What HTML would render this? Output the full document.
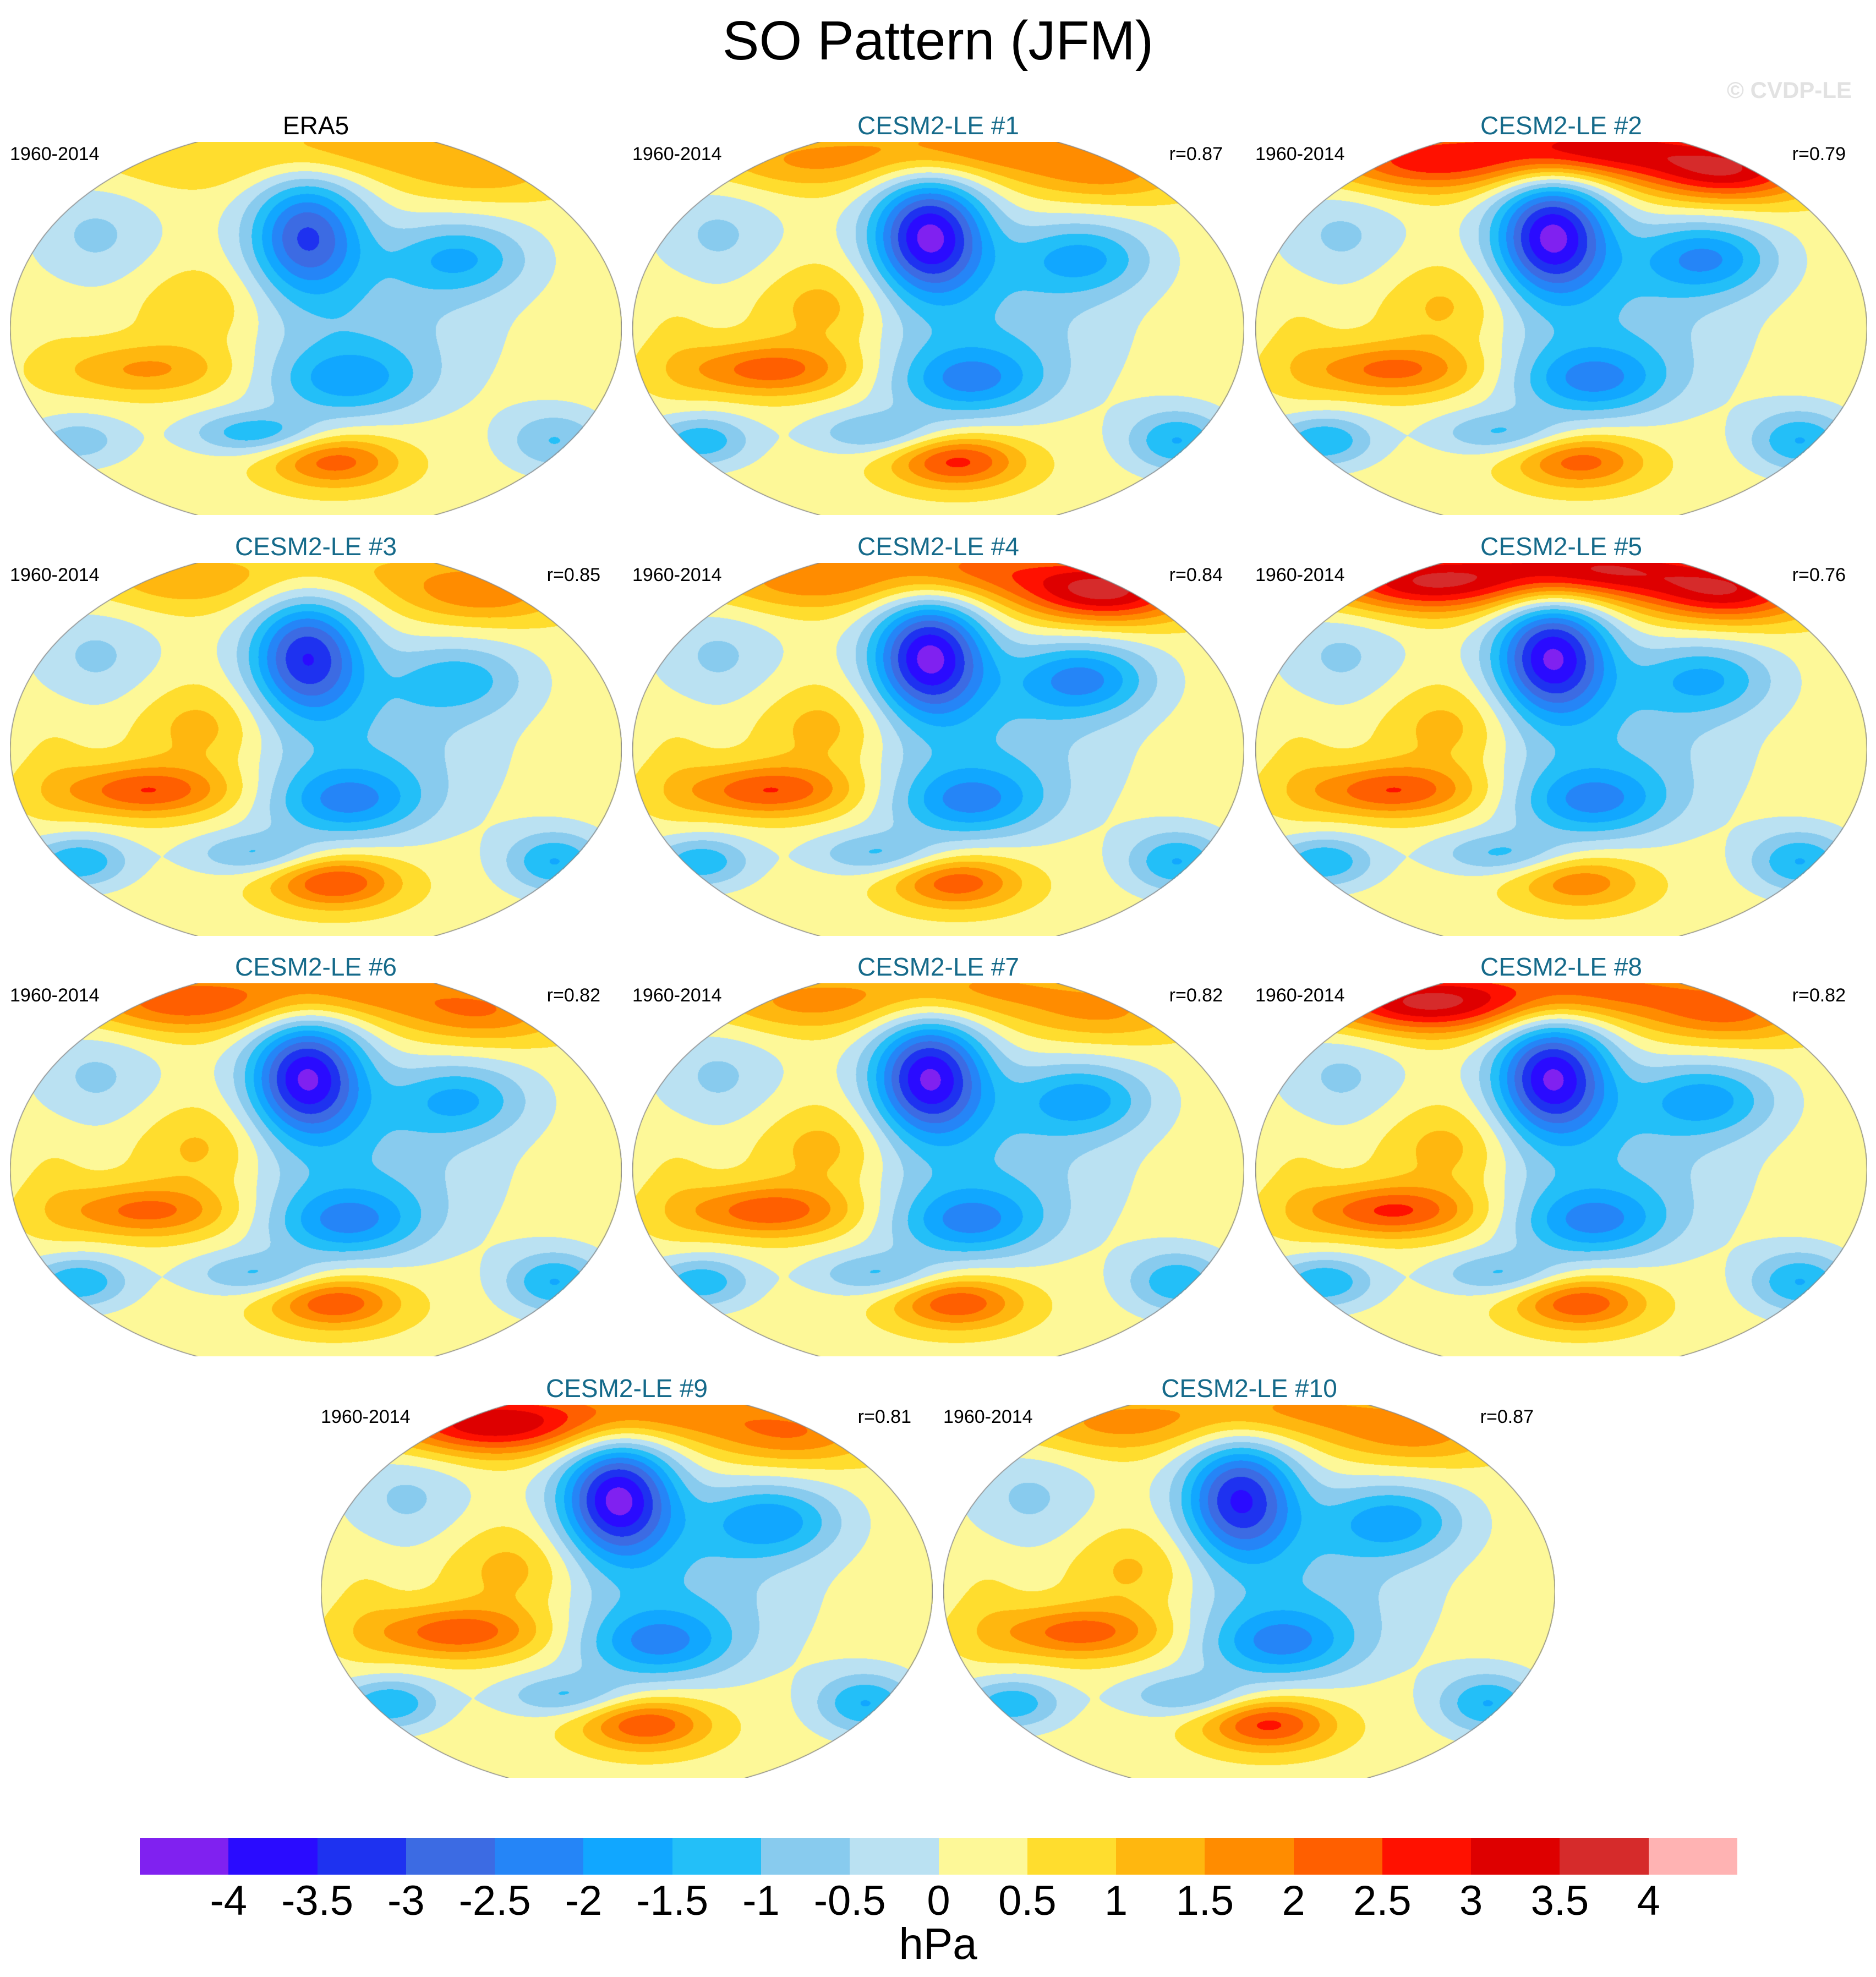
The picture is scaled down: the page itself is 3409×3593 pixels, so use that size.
<!DOCTYPE html>
<html><head><meta charset="utf-8">
<style>
html,body{margin:0;padding:0;background:#fff;}
#root{position:relative;width:3409px;height:3593px;overflow:hidden;background:#fff;font-family:"Liberation Sans",sans-serif;}
.t{position:absolute;white-space:nowrap;}
canvas{position:absolute;}
</style></head>
<body>
<div id="root">
<div class="t" style="left:0;width:3409px;text-align:center;top:14px;font-size:100px;line-height:120px;">SO Pattern (JFM)</div>
<div class="t" style="left:3138px;top:140px;font-size:42px;font-weight:bold;color:#e2e2e2;">© CVDP-LE</div>
<div id="cbar" style="position:absolute;left:254px;top:3340px;width:2903px;height:67px;"></div>
<div class="t" style="left:0;width:3409px;text-align:center;top:3488px;font-size:80px;line-height:90px;">hPa</div>
</div>
<script>
// colour levels
var levelLabels=["-4","-3.5","-3","-2.5","-2","-1.5","-1","-0.5","0","0.5","1","1.5","2","2.5","3","3.5","4"];
var binColors=["#8021F0","#2A0BFF","#1E32F0","#3C6BE3","#2585F7","#11A7FF","#23BFF8","#88CBEE","#BAE1F2","#FDF898","#FFDD2E","#FFB70F","#FF8C00","#FF5F00","#FF1100","#DE0000","#D62B2B","#FFB3B3"];
// panel metadata
var panelTitles=["ERA5","CESM2-LE #1","CESM2-LE #2","CESM2-LE #3","CESM2-LE #4","CESM2-LE #5","CESM2-LE #6","CESM2-LE #7","CESM2-LE #8","CESM2-LE #9","CESM2-LE #10"];
var panelR=["","r=0.87","r=0.79","r=0.85","r=0.84","r=0.76","r=0.82","r=0.82","r=0.82","r=0.81","r=0.87"];
// pattern features: position (u,v normalized map coords), widths
var featNames=["mainLow","arcL","arcC","arcR","atlLow","ausHigh","antHigh","eqPacLow","soIndLow","soPacLow","soAtlLow","pacHigh","cenPacLow","asiaLow","indHigh"];
var featU=[-0.03,-0.45,0.1,0.55,0.47,-0.55,0.06,0.1,-0.78,-0.2,0.78,-0.36,0.15,-0.72,-0.85];
var featV=[-0.5,-0.9,-0.97,-0.85,-0.38,0.22,0.71,0.28,0.6,0.56,0.6,-0.12,0.0,-0.5,0.1];
var featSx=[0.13,0.25,0.25,0.2,0.16,0.2,0.15,0.17,0.12,0.15,0.12,0.16,0.3,0.15,0.08];
var featSy=[0.22,0.12,0.12,0.12,0.14,0.1,0.1,0.13,0.1,0.08,0.12,0.17,0.3,0.2,0.25];
// amplitude (hPa) of each feature per panel
var ampERA5=[-3.2,0.6,1.0,1.0,-1.7,1.3,2.0,-1.6,-1.1,-1.6,-1.3,0.8,-1.0,-0.9,0.1];
var amp1=[-4.3,1.2,1.6,1.4,-1.8,2.0,2.4,-1.9,-1.7,-1.3,-1.8,1.1,-1.1,-0.9,0.3];
var amp2=[-4.3,2.4,3.0,3.0,-2.2,1.9,2.0,-1.9,-1.8,-1.3,-1.8,1.0,-1.1,-0.9,0.3];
var amp3=[-3.6,1.0,0.6,1.6,-1.4,2.2,2.3,-1.9,-1.8,-1.3,-1.8,1.1,-1.1,-0.9,0.3];
var amp4=[-4.3,1.4,1.8,3.3,-2.3,2.2,2.1,-1.9,-1.7,-1.3,-1.8,1.1,-1.1,-0.9,0.3];
var amp5=[-4.2,3.1,3.1,2.9,-1.7,2.2,1.6,-1.9,-1.8,-1.3,-1.8,1.1,-1.1,-0.9,0.3];
var amp6=[-4.2,2.0,1.5,1.6,-1.7,1.9,2.2,-1.9,-1.8,-1.3,-1.8,1.0,-1.1,-0.9,0.3];
var amp7=[-4.2,1.3,1.3,1.2,-1.9,2.1,2.2,-1.9,-1.7,-1.3,-1.7,1.1,-1.1,-0.9,0.3];
var amp8=[-4.2,3.3,1.8,1.8,-1.9,2.3,2.2,-1.9,-1.8,-1.3,-1.8,1.1,-1.1,-0.9,0.3];
var amp9=[-4.3,3.1,1.5,1.6,-2.0,2.1,2.2,-1.9,-1.8,-1.3,-1.8,1.1,-1.1,-0.9,0.3];
var amp10=[-3.7,1.3,1.3,1.4,-1.9,2.0,2.4,-1.9,-1.7,-1.3,-1.8,1.0,-1.1,-0.9,0.3];
var panelAmps=[ampERA5,amp1,amp2,amp3,amp4,amp5,amp6,amp7,amp8,amp9,amp10];
var baseValue=0.3;

var root=document.getElementById('root');
var W=1112,H=678;
var colX=[18,1149,2281];
var rowY=[258,1023,1787,2553];
var pos=[[0,0],[1,0],[2,0],[0,1],[1,1],[2,1],[0,2],[1,2],[2,2]];
function panelXY(i){
  if(i<9) return [colX[pos[i][0]],rowY[pos[i][1]]];
  return [i===9?583:1714,rowY[3]];
}
function binIndex(v){var k=Math.floor(v/0.5)+9;return Math.max(0,Math.min(17,k));}
var rgb=binColors.map(function(c){return [parseInt(c.substr(1,2),16),parseInt(c.substr(3,2),16),parseInt(c.substr(5,2),16)];});

for(var p=0;p<panelTitles.length;p++){
  var xy=panelXY(p),px=xy[0],py=xy[1];
  var t=document.createElement('div');t.className='t';
  
  
  t.style.cssText='left:'+px+'px;width:'+W+'px;text-align:center;top:'+(py-58)+'px;font-size:46px;line-height:56px;color:'+(p===0?'#000':'#156a8a');
  t.textContent=panelTitles[p];root.appendChild(t);
  var y=document.createElement('div');y.className='t';
  
  
  y.style.cssText='left:'+px+'px;top:'+(py+2)+'px;font-size:34px;line-height:40px;';
  y.textContent='1960-2014';root.appendChild(y);
  if(panelR[p]){
    var r=document.createElement('div');r.className='t';
    
    
    r.style.cssText='left:'+(px+W-39-200)+'px;width:200px;text-align:right;top:'+(py+2)+'px;font-size:34px;line-height:40px;';
    r.textContent=panelR[p];root.appendChild(r);
  }
  var c=document.createElement('canvas');c.width=W;c.height=H;
  
  
  c.style.left=px+'px';c.style.top=py+'px';root.appendChild(c);
  var ctx=c.getContext('2d');var img=ctx.createImageData(W,H);var d=img.data;
  var amps=panelAmps[p];var hb=H/2/0.921;
  for(var j=0;j<H;j++){
    var v=(j-H/2)/(H/2);var ey=(j-H/2)/hb;
    for(var i=0;i<W;i++){
      var u=(i-W/2)/(W/2);
      if(u*u+ey*ey>1) continue;
      var val=baseValue;
      for(var f=0;f<featU.length;f++){
        var du=(u-featU[f])/featSx[f],dv=(v-featV[f])/featSy[f];
        var e=du*du+dv*dv;if(e<30) val+=amps[f]*Math.exp(-0.5*e);
      }
      var col=rgb[binIndex(val)];var o=(j*W+i)*4;
      d[o]=col[0];d[o+1]=col[1];d[o+2]=col[2];d[o+3]=255;
    }
  }
  ctx.putImageData(img,0,0);
  ctx.save();ctx.beginPath();ctx.rect(0,0,W,H);ctx.clip();
  ctx.beginPath();ctx.ellipse(W/2,H/2,W/2-0.5,hb,0,0,Math.PI*2);
  ctx.strokeStyle='#888';ctx.lineWidth=1.5;ctx.stroke();ctx.restore();
}
var cb=document.getElementById('cbar');var bw=2903/binColors.length;
for(var k=0;k<binColors.length;k++){
  var b=document.createElement('div');
  
  
  b.style.cssText='position:absolute;top:0;height:67px;left:'+(k*bw)+'px;width:'+(bw+0.5)+'px;background:'+binColors[k];
  cb.appendChild(b);
}
for(var k=0;k<levelLabels.length;k++){
  var l=document.createElement('div');l.className='t';
  
  
  l.style.cssText='left:'+(254+(k+1)*bw-100)+'px;width:200px;text-align:center;top:3410px;font-size:76px;line-height:90px;';
  l.textContent=levelLabels[k];root.appendChild(l);
}
</script>
</body></html>
